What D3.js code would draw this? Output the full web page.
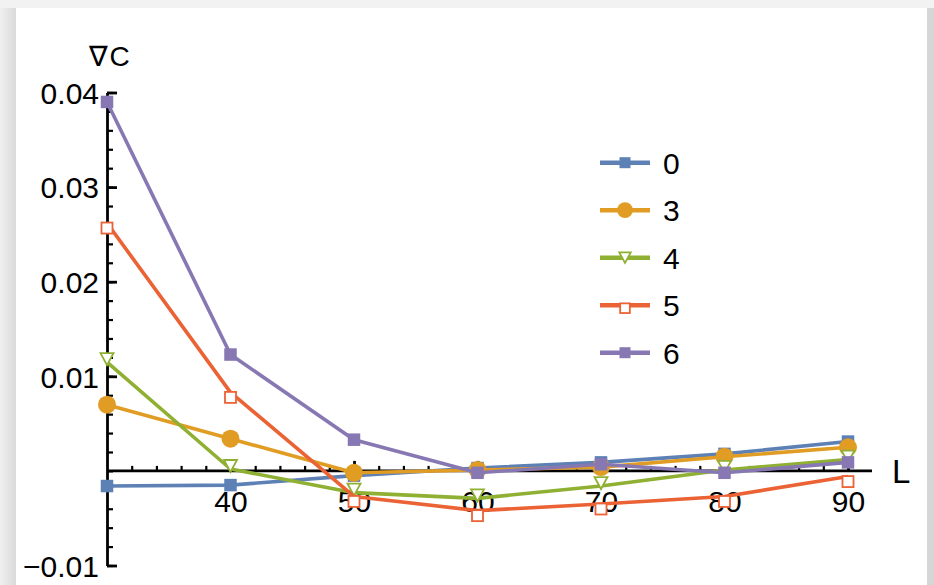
<!DOCTYPE html>
<html>
<head>
<meta charset="utf-8">
<script src="https://cdn.jsdelivr.net/npm/d3@7/dist/d3.min.js"></script>
<style>
  body { margin: 0; background: #fff; }
  svg text { font-family: "Liberation Sans", Arial, Helvetica, sans-serif; fill: #000; }
</style>
</head>
<body>
<svg id="chart" width="934" height="585"></svg>
<script>
// data
var lengths = [30, 40, 50, 60, 70, 80, 90];
var seriesNames = ["0", "3", "4", "5", "6"];
var values0 = [-0.0016, -0.0015, -0.0005, 0.0003, 0.0009, 0.0018, 0.0031];
var values3 = [0.0070, 0.0034, -0.0002, 0.0001, 0.0004, 0.0015, 0.0025];
var values4 = [0.0115, 0.0002, -0.0023, -0.0029, -0.0016, 0.0001, 0.0012];
var values5 = [0.0262, 0.0083, -0.0027, -0.0042, -0.0035, -0.0027, -0.0006];
var values6 = [0.0390, 0.0123, 0.0033, -0.0002, 0.0007, -0.0002, 0.0009];
var yMajor = [-0.01, 0.01, 0.02, 0.03, 0.04];
var xMajor = [40, 50, 60, 70, 80, 90];

var colors = ["#5e81b5", "#e19c24", "#8fb032", "#eb6235", "#8778b3"];
var markers = ["square", "circle", "triangle", "opensquare", "square"];
var allValues = [values0, values3, values4, values5, values6];

var svg = d3.select("#chart");

//Frame around the figure
var defs = svg.append("defs");
var grad = defs.append("linearGradient").attr("id", "leftShade");
grad.append("stop").attr("offset", "0%").attr("stop-color", "#f0f0f0");
grad.append("stop").attr("offset", "100%").attr("stop-color", "#dadada");

svg.append("rect").attr("width", 934).attr("height", 585).attr("fill", "#f2f2f2");
svg.append("rect").attr("x", 0).attr("y", 8).attr("width", 16).attr("height", 577).attr("fill", "url(#leftShade)");
svg.append("rect").attr("x", 927).attr("y", 8).attr("width", 7).attr("height", 577).attr("fill", "#d6d6d6");
svg.append("rect").attr("x", 16).attr("y", 8).attr("width", 911).attr("height", 577).attr("fill", "#fff");

//Scales
var x = d3.scaleLinear().domain([30, 90]).range([107, 848]);
var y = d3.scaleLinear().domain([-0.01, 0.04]).range([565.5, 92.5]);

//Y axis: minor ticks then major
var yMinorTicks = d3.range(-0.01, 0.0401, 0.002).map(function(v){ return +v.toFixed(3); });
svg.append("g")
	.attr("transform", "translate(" + x(30) + ",0)")
	.call(d3.axisLeft(y).tickValues(yMinorTicks).tickSizeInner(-6).tickSizeOuter(0).tickFormat(""))
	.call(function(g){ g.select(".domain").remove(); })
	.selectAll("line").attr("stroke", "#000").attr("stroke-width", 2.2);

var yAxis = svg.append("g")
	.attr("transform", "translate(" + x(30) + ",0)")
	.call(d3.axisLeft(y).tickValues(yMajor).tickSizeInner(-10).tickSizeOuter(0).tickPadding(8)
		.tickFormat(function(d){ return d < 0 ? "\u22120.01" : d3.format(".2f")(d); }));
yAxis.select(".domain").attr("stroke", "#000").attr("stroke-width", 2.8);
yAxis.selectAll("line").attr("stroke", "#000").attr("stroke-width", 2.8);
yAxis.selectAll("text").attr("font-size", 30).attr("dy", "0.36em");

//X axis
var xMinorTicks = d3.range(32, 91, 2);
var xEnd = 872;
svg.append("g")
	.attr("transform", "translate(0," + y(0) + ")")
	.call(d3.axisBottom(x).tickValues(xMinorTicks).tickSizeInner(-5).tickSizeOuter(0).tickFormat(""))
	.call(function(g){ g.select(".domain").remove(); })
	.selectAll("line").attr("stroke", "#000").attr("stroke-width", 2.2);

var xAxis = svg.append("g")
	.attr("transform", "translate(0," + y(0) + ")")
	.call(d3.axisBottom(x).tickValues(xMajor).tickSizeInner(-10).tickSizeOuter(0).tickPadding(20));
xAxis.select(".domain").remove();
xAxis.append("line")
	.attr("x1", x(30)).attr("x2", xEnd)
	.attr("stroke", "#000").attr("stroke-width", 2.8);
xAxis.selectAll(".tick line").attr("stroke", "#000").attr("stroke-width", 2.8);
xAxis.selectAll("text").attr("font-size", 30);

//Axis labels
svg.append("text")
	.attr("x", 110).attr("y", 66)
	.attr("text-anchor", "middle")
	.attr("font-size", 28)
	.attr("letter-spacing", 1)
	.text("\u2207C");

svg.append("text")
	.attr("x", 892).attr("y", 483)
	.attr("font-size", 33)
	.text("L");

//Marker drawing
function drawMarker(g, type, color, cx, cy, big){
	var s = big ? 1 : 0.88;
	if (type === "square"){
		var a = 12.5 * s;
		g.append("rect").attr("x", cx - a / 2).attr("y", cy - a / 2)
			.attr("width", a).attr("height", a).attr("fill", color);
	} else if (type === "circle"){
		g.append("circle").attr("cx", cx).attr("cy", cy).attr("r", 9 * s).attr("fill", color);
	} else if (type === "triangle"){
		var w = 13 * s, h = 12 * s, ty = cy - 3;
		g.append("path")
			.attr("d", "M" + (cx - w / 2) + "," + (ty - h / 2) + "L" + (cx + w / 2) + "," + (ty - h / 2) + "L" + cx + "," + (ty + h / 2) + "Z")
			.attr("fill", "#fff").attr("stroke", color).attr("stroke-width", 1.8);
	} else if (type === "opensquare"){
		var b = 11 * s, sy = cy + 5;
		g.append("rect").attr("x", cx - b / 2).attr("y", sy - b / 2)
			.attr("width", b).attr("height", b)
			.attr("fill", "#fff").attr("stroke", color).attr("stroke-width", 1.8);
	}
}

//Series
var line = d3.line()
	.x(function(d){ return x(d[0]); })
	.y(function(d){ return y(d[1]); });

var plot = svg.append("g").attr("class", "series");
allValues.forEach(function(vals, i){
	var pts = lengths.map(function(l, j){ return [l, vals[j]]; });
	var g = plot.append("g");
	g.append("path")
		.attr("d", line(pts))
		.attr("fill", "none")
		.attr("stroke", colors[i])
		.attr("stroke-width", 3.6)
		.attr("stroke-linejoin", "round");
	pts.forEach(function(p){
		drawMarker(g, markers[i], colors[i], x(p[0]), y(p[1]), true);
	});
});

//Legend
var legend = svg.append("g").attr("class", "legend");
var legendTop = 162.7, legendStep = 47.5;
seriesNames.forEach(function(name, i){
	var ly = legendTop + i * legendStep;
	legend.append("line")
		.attr("x1", 600).attr("x2", 650)
		.attr("y1", ly).attr("y2", ly)
		.attr("stroke", colors[i]).attr("stroke-width", 4.5);
	var my = ly;
	if (markers[i] === "opensquare") my = ly - 2;
	if (markers[i] === "triangle") my = ly + 3;
	drawMarker(legend, markers[i], colors[i], 625, my, false);
	legend.append("text")
		.attr("x", 663).attr("y", ly)
		.attr("dy", "0.36em")
		.attr("font-size", 30)
		.text(name);
});
</script>
</body>
</html>
